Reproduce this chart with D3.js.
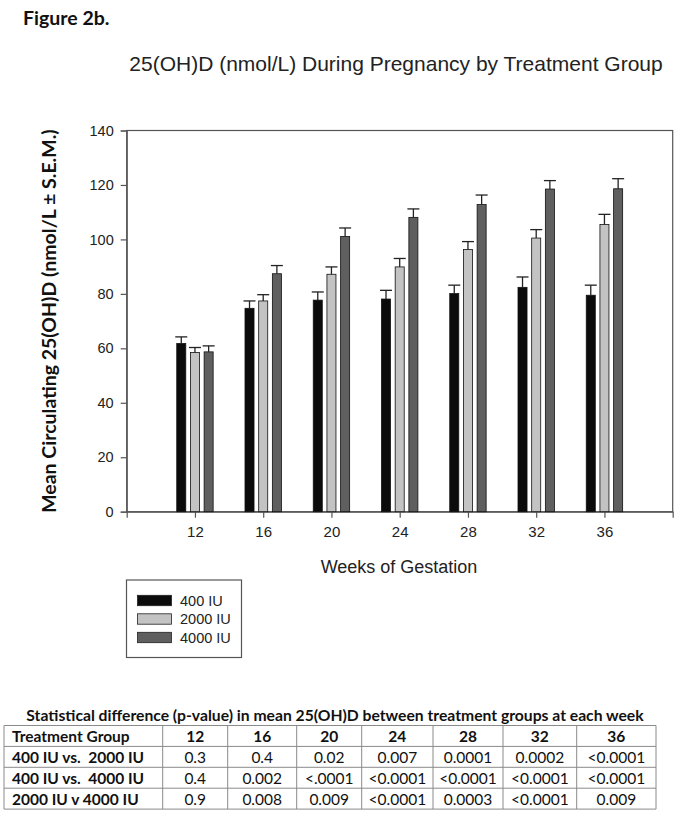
<!DOCTYPE html>
<html>
<head>
<meta charset="utf-8">
<script src="https://cdn.jsdelivr.net/npm/d3@7"></script>
<style>
  html, body { margin: 0; padding: 0; background: #fff; }
  svg { display: block; }
</style>
</head>
<body>
<svg id="chart" width="690" height="817"></svg>
<script>
// ---------- DATA ----------
const weeks = [12, 16, 20, 24, 28, 32, 36];
const seriesNames = ["400 IU", "2000 IU", "4000 IU"];
const mean400  = [61.8, 74.7, 77.7, 78.1, 80.1, 82.4, 79.5];
const sem400   = [2.4, 2.7, 3.0, 3.2, 3.1, 3.8, 3.7];
const mean2000 = [58.5, 77.4, 87.2, 89.9, 96.3, 100.5, 105.5];
const sem2000  = [1.8, 2.3, 2.7, 3.1, 2.9, 3.1, 3.7];
const mean4000 = [58.7, 87.4, 101.1, 108.1, 112.8, 118.5, 118.6];
const sem4000  = [2.2, 3.0, 3.1, 3.1, 3.5, 3.1, 3.7];
const yTicks = [0, 20, 40, 60, 80, 100, 120, 140];

const tableHeader = ["Treatment Group", "12", "16", "20", "24", "28", "32", "36"];
const rowLabels = ["400 IU vs.  2000 IU", "400 IU vs.  4000 IU", "2000 IU v 4000 IU"];
const p400v2000  = ["0.3", "0.4", "0.02", "0.007", "0.0001", "0.0002", "<0.0001"];
const p400v4000  = ["0.4", "0.002", "<.0001", "<0.0001", "<0.0001", "<0.0001", "<0.0001"];
const p2000v4000 = ["0.9", "0.008", "0.009", "<0.0001", "0.0003", "<0.0001", "0.009"];

// ---------- SETUP ----------
const svg = d3.select("#chart");
const colors = ["#0b0b0b", "#c3c3c3", "#5f5f5f"];
const means = [mean400, mean2000, mean4000];
const sems = [sem400, sem2000, sem4000];
const sansA = "'Liberation Sans', Arial, sans-serif";
const sansC = "Lato, 'Open Sans', sans-serif";

const plot = { left: 126.7, right: 672.7, top: 130.5, bottom: 511.7 };

const x = d3.scaleLinear().domain([8, 40]).range([plot.left, plot.right]);
const y = d3.scaleLinear().domain([0, 140]).range([plot.bottom, plot.top]);
const sub = d3.scaleBand().domain(seriesNames).range([-18.2, 18.2]).paddingInner(0.34);

// Figure label
svg.append("text").attr("x", 23).attr("y", 25)
  .attr("font-family", sansC).attr("font-weight", "bold").attr("font-size", 19.5)
  .attr("fill", "#111").text("Figure 2b.");

// Chart title
svg.append("text").attr("x", 396).attr("y", 71).attr("text-anchor", "middle")
  .attr("font-family", sansA).attr("font-size", 21).attr("fill", "#222")
  .text("25(OH)D (nmol/L) During Pregnancy by Treatment Group");

// Frame
svg.append("rect").attr("x", plot.left).attr("y", plot.top)
  .attr("width", plot.right - plot.left).attr("height", plot.bottom - plot.top)
  .attr("fill", "none").attr("stroke", "#555").attr("stroke-width", 1.2);

// Axes
const yAxis = d3.axisLeft(y).tickValues(yTicks).tickSize(6).tickPadding(7);
const gy = svg.append("g").attr("transform", `translate(${plot.left},0)`).call(yAxis);
gy.select(".domain").attr("stroke", "#555").attr("stroke-width", 1.2);
gy.selectAll(".tick line").attr("stroke", "#555").attr("stroke-width", 1.2);
gy.selectAll(".tick text").attr("font-family", sansA).attr("font-size", 14.5).attr("fill", "#222");

const xAxis = d3.axisBottom(x).tickValues(weeks).tickSize(6).tickPadding(9);
const gx = svg.append("g").attr("transform", `translate(0,${plot.bottom})`).call(xAxis);
gx.select(".domain").attr("stroke", "#555").attr("stroke-width", 1.2);
gx.selectAll(".tick line").attr("stroke", "#555").attr("stroke-width", 1.2);
gx.selectAll(".tick text").attr("font-family", sansA).attr("font-size", 15).attr("fill", "#222");

// Bars
const barData = [];
weeks.forEach((w, i) => {
  seriesNames.forEach((s, k) => {
    barData.push({ week: w, series: s, k: k, value: means[k][i], sem: sems[k][i] });
  });
});

const bars = svg.append("g");
bars.selectAll("rect").data(barData).enter().append("rect")
  .attr("x", d => x(d.week) + sub(d.series))
  .attr("y", d => y(d.value))
  .attr("width", sub.bandwidth())
  .attr("height", d => y(0) - y(d.value))
  .attr("fill", d => colors[d.k])
  .attr("stroke", "#111").attr("stroke-width", 0.8);

// Error bars (upper)
const eb = svg.append("g").attr("stroke", "#222").attr("stroke-width", 1.3);
eb.selectAll("line.v").data(barData).enter().append("line")
  .attr("x1", d => x(d.week) + sub(d.series) + sub.bandwidth() / 2)
  .attr("x2", d => x(d.week) + sub(d.series) + sub.bandwidth() / 2)
  .attr("y1", d => y(d.value)).attr("y2", d => y(d.value + d.sem));
eb.selectAll("line.c").data(barData).enter().append("line")
  .attr("x1", d => x(d.week) + sub(d.series) + sub.bandwidth() / 2 - 6)
  .attr("x2", d => x(d.week) + sub(d.series) + sub.bandwidth() / 2 + 6)
  .attr("y1", d => y(d.value + d.sem)).attr("y2", d => y(d.value + d.sem));

// Y axis title
svg.append("text")
  .attr("transform", `translate(48,${(plot.top + plot.bottom) / 2}) rotate(-90)`)
  .attr("text-anchor", "middle").attr("dominant-baseline", "central")
  .attr("font-family", sansC).attr("font-weight", "bold").attr("font-size", 19.5)
  .attr("fill", "#111").text("Mean Circulating 25(OH)D (nmol/L ± S.E.M.)");

// X axis title
svg.append("text").attr("x", 399).attr("y", 573).attr("text-anchor", "middle")
  .attr("font-family", sansA).attr("font-size", 18).attr("fill", "#222")
  .text("Weeks of Gestation");

// Legend
const lg = svg.append("g");
lg.append("rect").attr("x", 126.5).attr("y", 580).attr("width", 115).attr("height", 77.5)
  .attr("fill", "#fff").attr("stroke", "#555").attr("stroke-width", 1.2);
seriesNames.forEach((s, k) => {
  const cy = 600.5 + k * 18.5;
  lg.append("rect").attr("x", 137.5).attr("y", cy - 5.2).attr("width", 34).attr("height", 10.4)
    .attr("fill", colors[k]).attr("stroke", "#222").attr("stroke-width", 0.8);
  lg.append("text").attr("x", 180).attr("y", cy).attr("dominant-baseline", "central")
    .attr("font-family", sansA).attr("font-size", 14.5).attr("fill", "#222").text(s);
});

// ---------- TABLE ----------
const tbl = svg.append("g");
const colEdges = [4, 162.7, 227.7, 296.7, 361.7, 433, 503, 576.7, 656];
const rowTop = 725.5, rowH = 20.9;
const rows = [tableHeader,
  [rowLabels[0], ...p400v2000],
  [rowLabels[1], ...p400v4000],
  [rowLabels[2], ...p2000v4000]];

tbl.append("text").attr("x", 335).attr("y", 715).attr("text-anchor", "middle")
  .attr("dominant-baseline", "central")
  .attr("font-family", sansC).attr("font-weight", "bold").attr("font-size", 15.7)
  .attr("fill", "#111")
  .text("Statistical difference (p-value) in mean 25(OH)D between treatment groups at each week");

for (let r = 0; r <= rows.length; r++) {
  tbl.append("line").attr("x1", colEdges[0]).attr("x2", colEdges[colEdges.length - 1])
    .attr("y1", rowTop + r * rowH).attr("y2", rowTop + r * rowH)
    .attr("stroke", "#8a8a8a").attr("stroke-width", 1);
}
colEdges.forEach(cx => {
  tbl.append("line").attr("x1", cx).attr("x2", cx)
    .attr("y1", rowTop).attr("y2", rowTop + rows.length * rowH)
    .attr("stroke", "#8a8a8a").attr("stroke-width", 1);
});

rows.forEach((row, r) => {
  row.forEach((cell, c) => {
    const cyy = rowTop + r * rowH + rowH / 2 + 0.5;
    const isLabel = c === 0;
    tbl.append("text")
      .attr("x", isLabel ? colEdges[0] + 8 : (colEdges[c] + colEdges[c + 1]) / 2)
      .attr("y", cyy)
      .attr("text-anchor", isLabel ? "start" : "middle")
      .attr("dominant-baseline", "central")
      .attr("font-family", sansC)
      .attr("font-weight", (r === 0 || isLabel) ? "bold" : "normal")
      .attr("font-size", 15.5)
      .attr("fill", "#111")
      .style("white-space", "pre")
      .text(cell);
  });
});
</script>
</body>
</html>
